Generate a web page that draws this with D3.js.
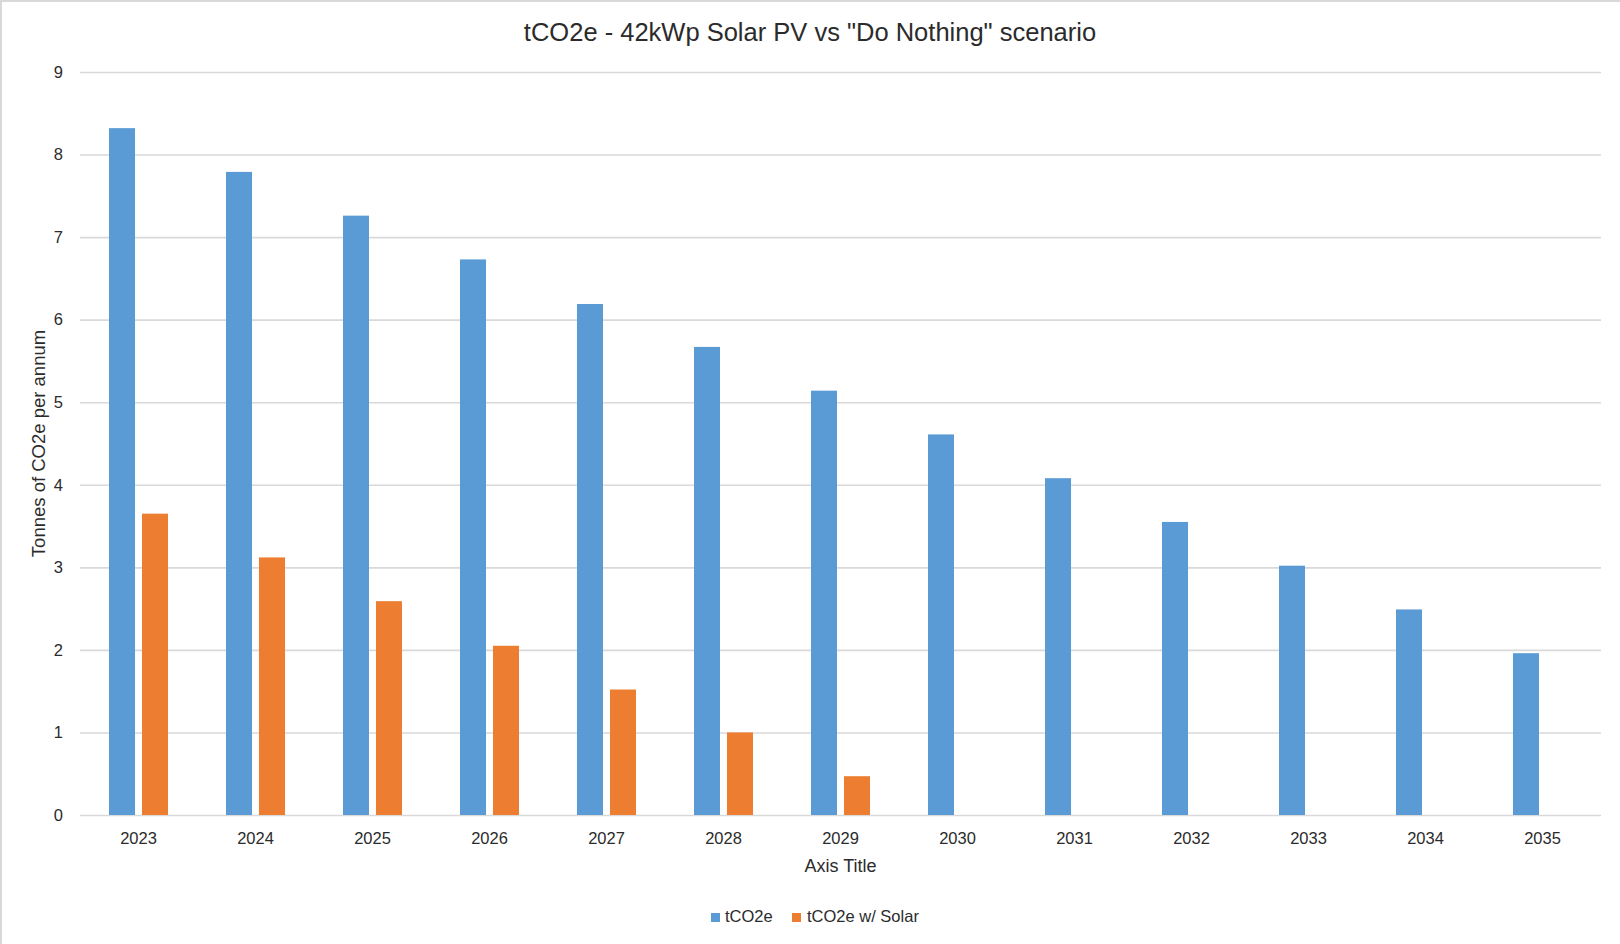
<!DOCTYPE html>
<html>
<head>
<meta charset="utf-8">
<script src="https://cdn.jsdelivr.net/npm/d3@7"></script>
<style>
  html, body { margin: 0; padding: 0; background: #ffffff; }
  svg { display: block; font-family: "Liberation Sans", Arial, sans-serif; }
</style>
</head>
<body>
<svg id="chart" width="1620" height="944"></svg>
<script>
// Annual emissions by year, tonnes CO2e
const years = ["2023","2024","2025","2026","2027","2028","2029","2030","2031","2032","2033","2034","2035"];
const baseline = [8.32, 7.79, 7.26, 6.73, 6.19, 5.67, 5.14, 4.61, 4.08, 3.55, 3.02, 2.49, 1.96];
const withSolar = [3.65, 3.12, 2.59, 2.05, 1.52, 1.00, 0.47, null, null, null, null, null, null];
const seriesNames = ["tCO2e", "tCO2e w/ Solar"];
const seriesColors = ["#5b9bd5", "#ed7d31"];
const yTicks = [0, 1, 2, 3, 4, 5, 6, 7, 8, 9];

const chartTitle = 'tCO2e - 42kWp Solar PV vs "Do Nothing" scenario';
const xTitle = "Axis Title";
const yTitle = "Tonnes of CO2e per annum";

const svg = d3.select("#chart");
const W = 1620, H = 944;
const plot = { left: 80, right: 1601, top: 72, bottom: 815 };
const textColor = "#2b2b2b";
const gridColor = "#d9d9d9";

// chart frame
svg.append("rect")
  .attr("x", 1).attr("y", 1)
  .attr("width", W + 40).attr("height", H + 40)
  .attr("fill", "#ffffff")
  .attr("stroke", gridColor).attr("stroke-width", 2);

const x = d3.scaleBand().domain(years).range([plot.left, plot.right]).padding(0);
const xSub = d3.scaleBand().domain(seriesNames)
  .range([29, x.bandwidth() - 29]).paddingInner(0.212).paddingOuter(0);
const y = d3.scaleLinear().domain([0, 9]).range([plot.bottom, plot.top]);

// y axis with gridlines
const yAxis = svg.append("g")
  .attr("transform", `translate(${plot.left},0)`)
  .call(d3.axisLeft(y).tickValues(yTicks).tickFormat(d3.format("d"))
    .tickSizeInner(-(plot.right - plot.left)).tickSizeOuter(0).tickPadding(17));
yAxis.select(".domain").remove();
yAxis.selectAll(".tick line").attr("stroke", gridColor).attr("stroke-width", 1.6);
yAxis.selectAll(".tick text")
  .attr("fill", textColor).style("font-size", "16.5px");

// bars
const rows = years.map((yr, i) => ({ year: yr, values: [baseline[i], withSolar[i]] }));
const groups = svg.append("g").selectAll("g")
  .data(rows).join("g")
  .attr("transform", d => `translate(${x(d.year)},0)`);
groups.selectAll("rect")
  .data(d => d.values.map((v, k) => ({ name: seriesNames[k], value: v, k })).filter(e => e.value != null))
  .join("rect")
  .attr("x", d => xSub(d.name))
  .attr("width", xSub.bandwidth())
  .attr("y", d => y(d.value))
  .attr("height", d => y(0) - y(d.value))
  .attr("fill", d => seriesColors[d.k]);

// x axis
const xAxis = svg.append("g")
  .attr("transform", `translate(0,${plot.bottom})`)
  .call(d3.axisBottom(x).tickSize(0).tickPadding(17));
xAxis.select(".domain").remove();
xAxis.selectAll(".tick text")
  .attr("fill", textColor).style("font-size", "16.5px");

// titles
svg.append("text")
  .attr("x", 810).attr("y", 41)
  .attr("text-anchor", "middle")
  .attr("fill", textColor)
  .style("font-size", "25.5px")
  .text(chartTitle);

svg.append("text")
  .attr("x", (plot.left + plot.right) / 2).attr("y", 872)
  .attr("text-anchor", "middle")
  .attr("fill", textColor)
  .style("font-size", "18px")
  .text(xTitle);

svg.append("text")
  .attr("transform", `translate(45,${(plot.top + plot.bottom) / 2}) rotate(-90)`)
  .attr("text-anchor", "middle")
  .attr("fill", textColor)
  .style("font-size", "18.5px")
  .text(yTitle);

// legend
const legendItems = [
  { name: seriesNames[0], color: seriesColors[0], sx: 711, tx: 725 },
  { name: seriesNames[1], color: seriesColors[1], sx: 792, tx: 807 }
];
const legend = svg.append("g");
legendItems.forEach(it => {
  legend.append("rect")
    .attr("x", it.sx).attr("y", 913)
    .attr("width", 9).attr("height", 9)
    .attr("fill", it.color);
  legend.append("text")
    .attr("x", it.tx).attr("y", 922)
    .attr("fill", textColor)
    .style("font-size", "16.5px")
    .text(it.name);
});
</script>
</body>
</html>
